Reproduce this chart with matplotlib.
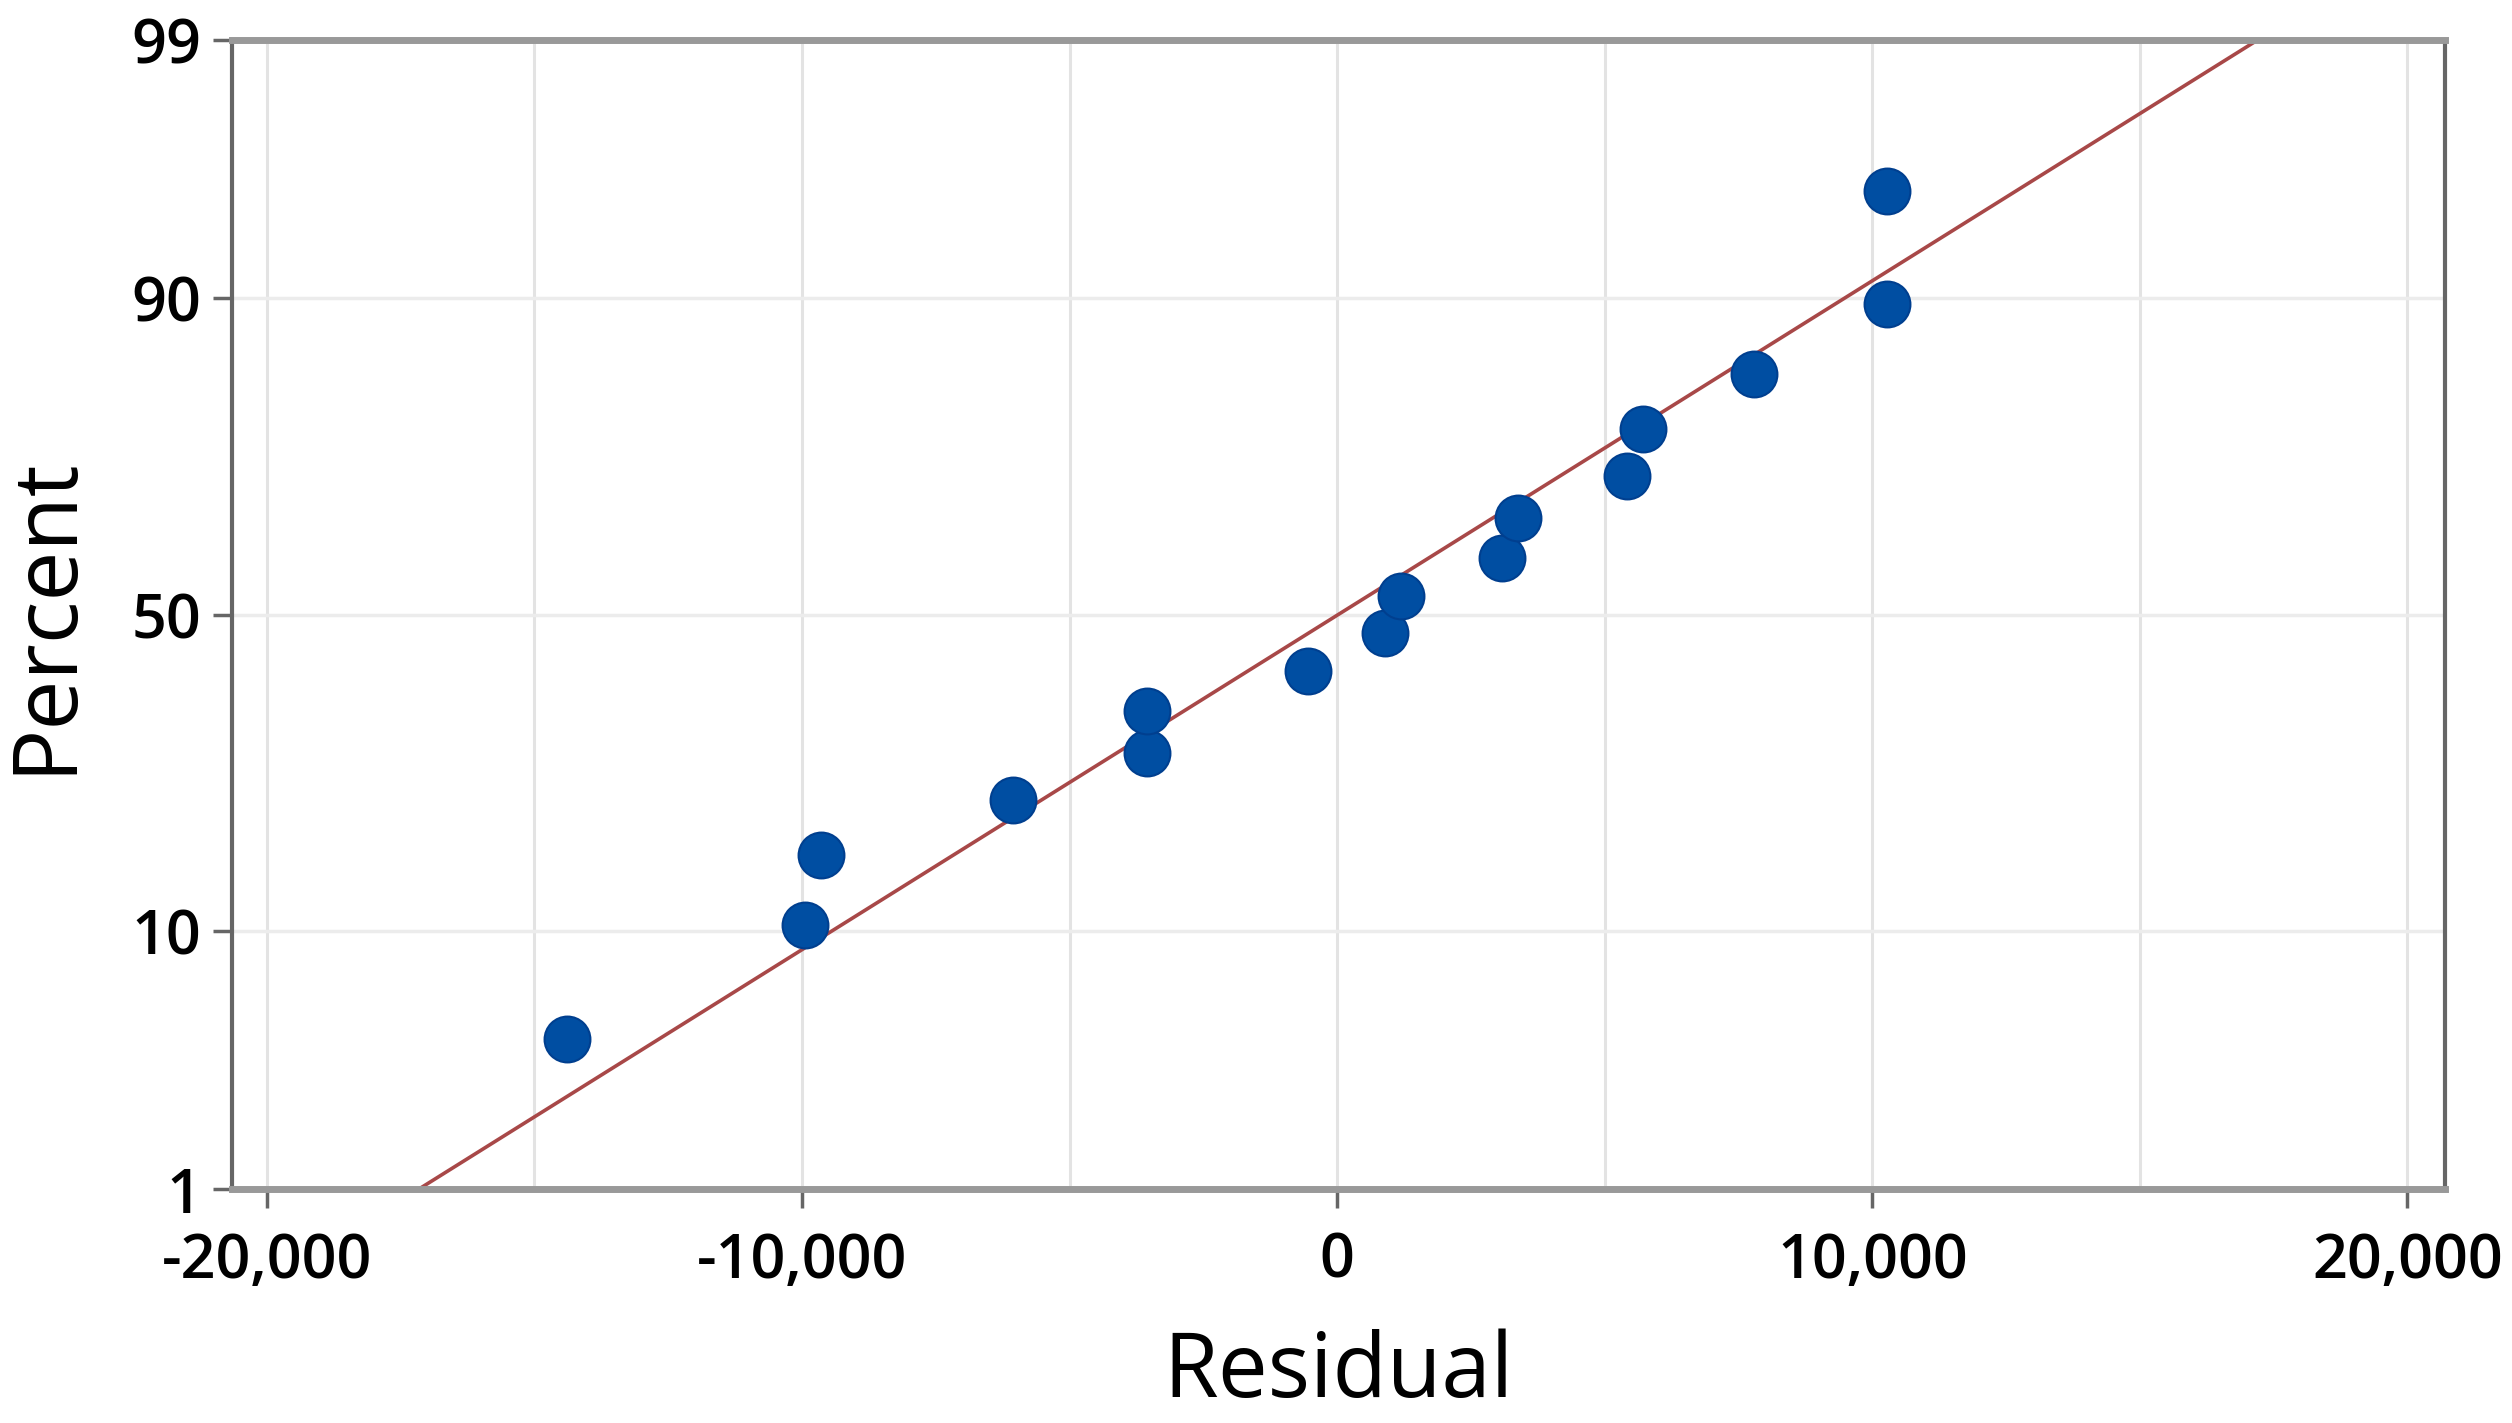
import numpy as np
import matplotlib
matplotlib.use("Agg")
import matplotlib.pyplot as plt
from matplotlib.ticker import FuncFormatter, FixedLocator
from statistics import NormalDist

# residuals, with their plotted percent positions
residual = [-14400, -9940, -9640, -6050, -3560, -3560, -540, 900,
            1200, 3080, 3380, 5420, 5720, 7780, 10270, 10270]
percent = [4.3, 10.4, 16.5, 22.6, 28.7, 34.8, 40.9, 47.0,
           53.0, 59.1, 65.2, 71.3, 77.4, 83.5, 89.6, 95.7]

y_ticks = [1, 10, 50, 90, 99]
x_ticks = [-20000, -10000, 0, 10000, 20000]
x_grid = [-20000, -15000, -10000, -5000, 0, 5000, 10000, 15000, 20000]

nd = NormalDist()


def fwd(p):
    p = np.clip(np.asarray(p, dtype=float), 1e-6, 100 - 1e-6)
    return np.array([nd.inv_cdf(v / 100.0) for v in np.ravel(p)]).reshape(np.shape(p))


def inv(z):
    z = np.asarray(z, dtype=float)
    return np.array([nd.cdf(v) * 100.0 for v in np.ravel(z)]).reshape(np.shape(z))


plt.rcParams['font.family'] = ['Open Sans', 'DejaVu Sans']

fig = plt.figure(figsize=(25.12, 14.23), dpi=100)
ax = fig.add_axes([0.0924, 0.1644, 0.9733 - 0.0924, 0.9719 - 0.1644])

ax.set_yscale('function', functions=(fwd, inv))
ax.set_ylim(1, 99)
ax.set_xlim(-20650, 20700)

# grid
for g in x_grid:
    ax.axvline(g, color='#e3e3e3', lw=2.2, zorder=0)
for g in y_ticks[1:-1]:
    ax.axhline(g, color='#ececec', lw=2.5, zorder=0)

# fitted normal line
mu = np.mean(residual)
sd = np.std(residual, ddof=1)
xs = np.linspace(-25000, 25000, 400)
ys = inv((xs - mu) / sd)
ax.plot(xs, ys, color='#a84848', lw=2.6, zorder=2)

ax.plot(residual, percent, 'o', color='#004ea2', ms=33, mec='#003f8f', mew=1.5, zorder=3)

ax.yaxis.set_major_locator(FixedLocator(y_ticks))
ax.yaxis.set_minor_locator(FixedLocator([]))
ax.yaxis.set_major_formatter(FuncFormatter(lambda v, p: f"{v:g}"))
ax.set_xticks(x_ticks)
ax.xaxis.set_major_formatter(FuncFormatter(lambda v, p: f"{int(v):,}"))

ax.tick_params(axis='both', labelsize=44, colors='#666666', labelcolor='black',
               width=2.5, length=14)
ax.tick_params(axis='x', pad=16)
ax.tick_params(axis='y', pad=8)
for lbl in ax.get_xticklabels() + ax.get_yticklabels():
    lbl.set_fontweight('semibold')

for s in ['top', 'bottom']:
    ax.spines[s].set_color('#999999')
    ax.spines[s].set_linewidth(5)
for s in ['left', 'right']:
    ax.spines[s].set_color('#666666')
    ax.spines[s].set_linewidth(3)

ax.set_xlabel('Residual', fontsize=64, labelpad=26)
ax.set_ylabel('Percent', fontsize=64, labelpad=29)

fig.savefig('out.png', dpi=100)
